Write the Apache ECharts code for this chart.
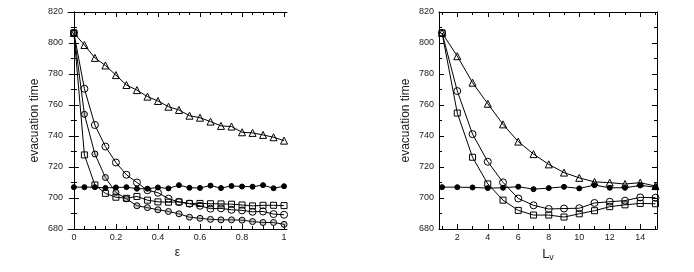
<!DOCTYPE html>
<html>
<head>
<meta charset="utf-8">
<script src="https://cdn.jsdelivr.net/npm/echarts@6/dist/echarts.min.js"></script>
<style>
html,body{margin:0;padding:0;background:#fff;}
#chart{width:694px;height:272px;}
</style>
</head>
<body>
<div id="chart"></div>
<script>
// ---------- data ----------
var epsValues = [0,0.05,0.1,0.15,0.2,0.25,0.3,0.35,0.4,0.45,0.5,0.55,0.6,0.65,0.7,0.75,0.8,0.85,0.9,0.95,1];
var leftTriangles = [806.5,798.7,790.4,785.5,779.3,772.9,769.6,765.4,762.6,758.9,756.8,753.1,751.8,749.3,746.5,746.1,742.4,742.0,740.7,739.2,737.0];
var leftCirclesA  = [806.5,770.5,747.1,733.2,722.9,715.0,710.0,705.0,703.4,699.6,697.4,696.3,695.0,693.1,693.3,692.4,692.0,691.1,691.3,689.6,689.2];
var leftCirclesB  = [806.5,754.0,728.4,713.2,703.6,699.5,695.0,693.8,692.4,691.3,689.8,687.6,686.9,686.2,685.9,685.9,685.7,684.8,684.2,684.2,683.0];
var leftSquares   = [806.5,727.8,708.4,703.0,700.5,699.8,701.0,698.6,697.5,697.3,697.5,696.5,696.5,696.3,696.2,696.0,695.5,694.9,695.3,695.3,695.1];
var leftDots      = [707.0,707.0,707.0,706.5,706.8,707.0,706.0,706.0,706.8,706.2,708.3,706.6,706.5,708.0,706.4,707.8,707.4,707.3,708.3,706.3,707.6];

var lvValues = [1,2,3,4,5,6,7,8,9,10,11,12,13,14,15];
var rightTriangles = [806.5,791.5,774.4,760.8,747.5,736.4,728.3,721.7,716.4,713.0,710.4,709.9,709.0,709.9,707.7];
var rightCircles   = [806.5,769.0,741.2,723.4,710.1,699.7,695.3,692.9,693.2,693.4,696.8,697.6,698.3,700.4,700.2];
var rightSquares   = [806.5,754.8,726.3,709.1,698.6,692.0,689.0,689.0,687.7,689.8,691.8,694.4,695.6,696.5,696.3];
var rightDots      = [707.0,707.0,706.8,706.4,706.6,707.3,705.7,706.4,707.2,706.2,708.3,706.6,706.6,708.1,707.0];

var yTicks = [680,700,720,740,760,780,800,820];
var epsMajorTicks = [0,0.2,0.4,0.6,0.8,1];
var epsMinorTicks = [0.05,0.1,0.15,0.25,0.3,0.35,0.45,0.5,0.55,0.65,0.7,0.75,0.85,0.9,0.95];
var lvMajorTicks = [2,4,6,8,10,12,14];
var lvMinorTicks = [1,3,5,7,9,11,13,15];

// ---------- chart ----------
var FONT = 'Liberation Sans, Arial, sans-serif';
var TXT = '#1a1a1a';

function pairs(xs, ys){ return xs.map(function(x,i){ return [x, ys[i]]; }); }

function xAxisSet(gi, min, max, majors, minors, name, nameGap, nameRich){
  var base = {type:'value', gridIndex:gi, min:min, max:max, splitLine:{show:false}};
  return [
    Object.assign({}, base, {position:'bottom', name:name, nameLocation:'middle', nameGap:nameGap,
      nameTextStyle:Object.assign({fontFamily:FONT, fontSize:12, color:TXT}, nameRich ? {rich:nameRich} : {}),
      axisLine:{show:true, lineStyle:{color:'#000', width:1}},
      axisTick:{show:true, inside:true, length:5, customValues:majors, lineStyle:{color:'#000'}},
      axisLabel:{show:true, customValues:majors, fontFamily:FONT, fontSize:9, color:TXT, margin:4}}),
    Object.assign({}, base, {position:'bottom',
      axisLine:{show:false},
      axisTick:{show:true, inside:true, length:3, customValues:minors, lineStyle:{color:'#000'}},
      axisLabel:{show:false}}),
    Object.assign({}, base, {position:'top',
      axisLine:{show:true, lineStyle:{color:'#000', width:1}},
      axisTick:{show:true, inside:true, length:5, customValues:majors, lineStyle:{color:'#000'}},
      axisLabel:{show:false}}),
    Object.assign({}, base, {position:'top',
      axisLine:{show:false},
      axisTick:{show:true, inside:true, length:3, customValues:minors, lineStyle:{color:'#000'}},
      axisLabel:{show:false}})
  ];
}

function yAxisSet(gi){
  var base = {type:'value', gridIndex:gi, min:yTicks[0], max:yTicks[yTicks.length-1], interval:20,
    splitLine:{show:false}, minorSplitLine:{show:false},
    axisLine:{show:true, lineStyle:{color:'#000', width:1}},
    axisTick:{show:true, inside:true, length:5, lineStyle:{color:'#000'}},
    minorTick:{show:true, splitNumber:2, length:3, lineStyle:{color:'#000'}}};
  return [
    Object.assign({}, base, {position:'left', name:'evacuation time', nameLocation:'middle', nameGap:27,
      nameTextStyle:{fontFamily:FONT, fontSize:12, color:TXT},
      axisLabel:{show:true, fontFamily:FONT, fontSize:9, color:TXT, margin:5}}),
    Object.assign({}, base, {position:'right', axisLabel:{show:false}})
  ];
}

var xAxes = [].concat(
  xAxisSet(0, -0.028, 1.014, epsMajorTicks, epsMinorTicks, 'ε', 18, null),
  xAxisSet(1, 0.8, 15.1, lvMajorTicks, lvMinorTicks, '{a|L}{b|v}', 14,
    {a:{fontFamily:FONT, fontSize:13, color:TXT, lineHeight:16}, b:{fontFamily:FONT, fontSize:9, color:TXT, padding:[6,0,0,0], lineHeight:16}})
);
var yAxes = [].concat(yAxisSet(0), yAxisSet(1));

function ser(xi, yi, xs, ys, symbol, size, fill){
  return {type:'line', xAxisIndex:xi, yAxisIndex:yi, data:pairs(xs, ys),
    symbol:symbol, symbolSize:size, showSymbol:true, animation:false,
    lineStyle:{color:'#000', width:1},
    itemStyle:{color:fill, borderColor:'#000', borderWidth:1}};
}

var series = [
  ser(0,0,epsValues,leftTriangles,'triangle',7,'rgba(0,0,0,0)'),
  ser(0,0,epsValues,leftCirclesA,'circle',7,'rgba(0,0,0,0)'),
  ser(0,0,epsValues,leftCirclesB,'circle',6,'rgba(120,120,120,0.35)'),
  ser(0,0,epsValues,leftSquares,'rect',6,'rgba(0,0,0,0)'),
  ser(0,0,epsValues,leftDots,'circle',5,'#000'),
  ser(4,2,lvValues,rightTriangles,'triangle',7,'rgba(0,0,0,0)'),
  ser(4,2,lvValues,rightCircles,'circle',7,'rgba(0,0,0,0)'),
  ser(4,2,lvValues,rightSquares,'rect',6,'rgba(0,0,0,0)'),
  ser(4,2,lvValues,rightDots,'circle',5,'#000')
];

var chart = echarts.init(document.getElementById('chart'), null, {renderer:'canvas'});
chart.setOption({
  animation:false,
  backgroundColor:'#fff',
  grid:[
    {left:68, top:12, width:219, height:217},
    {left:439, top:12, width:218, height:217}
  ],
  xAxis:xAxes,
  yAxis:yAxes,
  series:series
});
</script>
</body>
</html>
